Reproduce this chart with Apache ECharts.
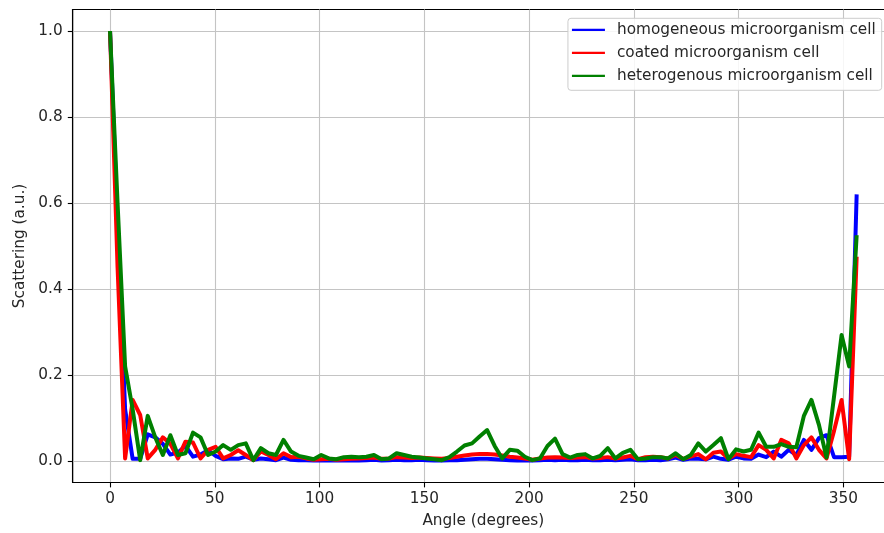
<!DOCTYPE html>
<html>
<head>
<meta charset="utf-8">
<script src="https://cdn.jsdelivr.net/npm/echarts@6/dist/echarts.min.js"></script>
<style>html,body{margin:0;padding:0;background:#fff}#c{width:884px;height:533px}</style>
</head>
<body>
<div id="c"></div>
<script>
const angles = [0,3.6,7.2,10.8,14.4,18,21.6,25.2,28.8,32.4,
36,39.6,43.2,46.8,50.4,54,57.6,61.2,64.8,68.4,
72,75.6,79.2,82.8,86.4,90,93.6,97.2,100.8,104.4,
108,111.6,115.2,118.8,122.4,126,129.6,133.2,136.8,140.4,
144,147.6,151.2,154.8,158.4,162,165.6,169.2,172.8,176.4,
180,183.6,187.2,190.8,194.4,198,201.6,205.2,208.8,212.4,
216,219.6,223.2,226.8,230.4,234,237.6,241.2,244.8,248.4,
252,255.6,259.2,262.8,266.4,270,273.6,277.2,280.8,284.4,
288,291.6,295.2,298.8,302.4,306,309.6,313.2,316.8,320.4,
324,327.6,331.2,334.8,338.4,342,345.6,349.2,352.8,356.4];

const homogeneous = [1.0,0.55,0.12,0.005,0.005,0.062,0.055,0.04,0.015,0.02,
0.035,0.01,0.015,0.025,0.012,0.004,0.006,0.005,0.01,0.003,
0.006,0.004,0.002,0.008,0.003,0.002,0.002,0.001,0.002,0.001,
0.001,0.002,0.001,0.001,0.002,0.003,0.001,0.002,0.003,0.002,
0.002,0.003,0.002,0.001,0.001,0.002,0.002,0.003,0.004,0.005,
0.005,0.004,0.003,0.002,0.001,0.002,0.001,0.002,0.003,0.002,
0.003,0.002,0.002,0.003,0.002,0.002,0.003,0.002,0.003,0.004,
0.002,0.002,0.003,0.002,0.004,0.008,0.003,0.006,0.005,0.004,
0.01,0.005,0.003,0.01,0.006,0.005,0.015,0.009,0.022,0.01,
0.026,0.014,0.049,0.026,0.053,0.06,0.009,0.009,0.01,0.62];

const coated = [1.0,0.45,0.006,0.142,0.107,0.006,0.026,0.055,0.04,0.006,
0.045,0.043,0.006,0.026,0.033,0.006,0.014,0.025,0.014,0.002,
0.022,0.014,0.004,0.018,0.009,0.01,0.006,0.003,0.004,0.005,
0.003,0.004,0.005,0.006,0.007,0.008,0.005,0.006,0.009,0.008,
0.007,0.008,0.007,0.006,0.005,0.007,0.01,0.013,0.015,0.016,
0.016,0.015,0.013,0.01,0.008,0.006,0.003,0.006,0.008,0.009,
0.008,0.007,0.008,0.009,0.006,0.007,0.009,0.006,0.008,0.012,
0.004,0.009,0.01,0.009,0.006,0.014,0.005,0.01,0.016,0.004,
0.019,0.022,0.005,0.016,0.012,0.009,0.037,0.026,0.006,0.049,
0.041,0.006,0.037,0.055,0.026,0.006,0.07,0.142,0.004,0.475];

const heterogenous = [1.0,0.6,0.22,0.12,0.002,0.105,0.055,0.014,0.06,0.014,
0.018,0.066,0.055,0.014,0.022,0.037,0.026,0.037,0.041,0.002,
0.03,0.018,0.014,0.049,0.022,0.012,0.008,0.004,0.014,0.006,
0.004,0.009,0.01,0.009,0.01,0.014,0.004,0.006,0.018,0.014,
0.01,0.008,0.006,0.004,0.002,0.009,0.022,0.036,0.041,0.057,
0.072,0.035,0.006,0.026,0.024,0.01,0.002,0.006,0.035,0.052,
0.016,0.008,0.014,0.016,0.006,0.012,0.03,0.006,0.019,0.026,
0.004,0.006,0.009,0.009,0.006,0.018,0.004,0.014,0.041,0.022,
0.037,0.053,0.004,0.027,0.022,0.026,0.066,0.033,0.033,0.039,
0.033,0.032,0.105,0.142,0.084,0.008,0.15,0.293,0.22,0.525];

const seriesNames = ['homogeneous microorganism cell','coated microorganism cell','heterogenous microorganism cell'];
const seriesColors = ['#0000ff','#ff0000','#008000'];
const xTicks = [0,50,100,150,200,250,300,350];
const yTicks = [0,0.2,0.4,0.6,0.8,1.0];

const font = 'DejaVu Sans';
const fs = 15.3;
const allData = [homogeneous, coated, heterogenous];

const chart = echarts.init(document.getElementById('c'), null, {renderer:'canvas'});
chart.setOption({
  backgroundColor:'#ffffff',
  animation:false,
  grid:{left:72.7, top:9.5, right:-10, bottom:50.5, show:true, borderColor:'#000', borderWidth:1.1, backgroundColor:'transparent', outerBoundsMode:'none', containLabel:false},
  legend:{
    right:2.3, top:18.3, orient:'vertical', align:'left',
    backgroundColor:'rgba(255,255,255,0.85)', borderColor:'#cccccc', borderWidth:1, borderRadius:3,
    padding:[3,6,6,4], itemGap:6, itemWidth:33, itemHeight:2.2, icon:'rect',
    textStyle:{fontFamily:font, fontSize:fs, color:'#262626', lineHeight:17, padding:[0,0,0,7]},
    data:seriesNames
  },
  xAxis:{
    type:'value', min:-17.82, max:374.22,
    name:'Angle (degrees)', nameLocation:'middle', nameGap:31,
    nameTextStyle:{fontFamily:font, fontSize:fs, color:'#262626'},
    axisLine:{show:true, onZero:false, lineStyle:{color:'#000', width:1.1}},
    axisTick:{show:true, length:4.9, lineStyle:{color:'#000', width:1.1}, customValues:xTicks},
    axisLabel:{margin:9.5, fontFamily:font, fontSize:fs, color:'#262626', customValues:xTicks, formatter:v=>String(Math.round(v))},
    splitLine:{show:true, lineStyle:{color:'#c4c4c4', width:1.1}}
  },
  yAxis:{
    type:'value', min:-0.05, max:1.05,
    name:'Scattering (a.u.)', nameLocation:'middle', nameGap:41, nameRotate:90,
    nameTextStyle:{fontFamily:font, fontSize:fs, color:'#262626'},
    axisLine:{show:true, onZero:false, lineStyle:{color:'#000', width:1.1}},
    axisTick:{show:true, length:4.9, lineStyle:{color:'#000', width:1.1}, customValues:yTicks},
    axisLabel:{margin:10, fontFamily:font, fontSize:fs, color:'#262626', customValues:yTicks, formatter:v=>v.toFixed(1)},
    splitLine:{show:true, lineStyle:{color:'#c4c4c4', width:1.1}}
  },
  series: seriesNames.map((n,k)=>({
    name:n, type:'line', showSymbol:false, symbol:'none', color:seriesColors[k],
    lineStyle:{width:4, color:seriesColors[k], join:'round', cap:'butt'},
    data: angles.map((a,i)=>[a, allData[k][i]]),
    z:2+k
  }))
});
</script>
</body>
</html>
